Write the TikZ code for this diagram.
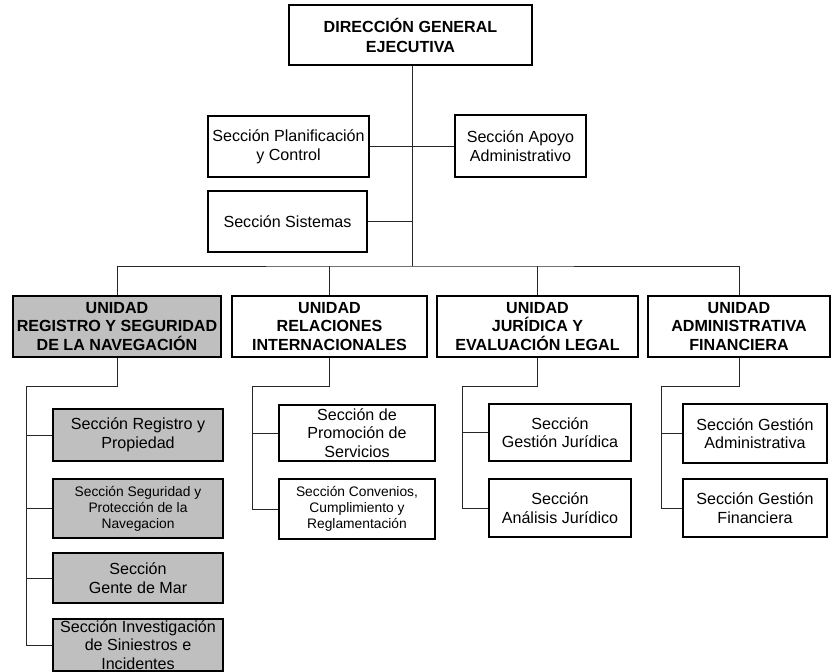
\documentclass[tikz,border=0pt]{standalone}
\usepackage{fontspec}
\setmainfont{Liberation Sans}
\begin{document}
\begin{tikzpicture}[x=1pt,y=-1pt,
  box/.style={draw=black,line width=1.6pt,fill=white,align=center,inner sep=1pt,
    font=\fontsize{16.1}{18.6}\selectfont},
  gbox/.style={box,fill=black!25},
  ubox/.style={box,font=\fontsize{16.1}{18.4}\selectfont\bfseries},
  small/.style={font=\fontsize{13.8}{15.9}\selectfont},
  conn/.style={draw=black!85,line width=0.9pt}]
\useasboundingbox (0,0) rectangle (833,672);
% top
\node[ubox,minimum width=243pt,minimum height=60pt,font=\fontsize{16.1}{20}\selectfont\bfseries] (top) at (410.5,35) {DIRECCIÓN GENERAL\\EJECUTIVA};
\node[box,minimum width=161pt,minimum height=61pt] (plan) at (288.5,146.5) {Sección Planificación\\y Control};
\node[box,minimum width=131pt,minimum height=62pt] (apoyo) at (520.5,146) {Sección Apoyo\\Administrativo};
\node[box,minimum width=159pt,minimum height=61pt] (sist) at (287.5,221.5) {Sección Sistemas};
% unidades
\node[ubox,fill=black!25,minimum width=208pt,minimum height=61pt] (u1) at (117,326.5) {UNIDAD\\REGISTRO Y SEGURIDAD\\DE LA NAVEGACIÓN};
\node[ubox,minimum width=195pt,minimum height=61pt] (u2) at (329.5,326.5) {UNIDAD\\RELACIONES\\INTERNACIONALES};
\node[ubox,minimum width=201pt,minimum height=61pt] (u3) at (537.5,326.5) {UNIDAD\\JURÍDICA Y\\EVALUACIÓN LEGAL};
\node[ubox,minimum width=182pt,minimum height=61pt] (u4) at (739,326.5) {UNIDAD\\ADMINISTRATIVA\\FINANCIERA};
% secciones U1
\node[gbox,minimum width=170pt,minimum height=52pt] (sa) at (138,435) {Sección Registro y\\Propiedad};
\node[gbox,small,minimum width=170pt,minimum height=59pt] (sb) at (138,508.5) {Sección Seguridad y\\Protección de la\\Navegacion};
\node[gbox,minimum width=170pt,minimum height=50pt] (sc) at (138,578) {Sección\\Gente de Mar};
\node[gbox,minimum width=170pt,minimum height=52pt] (sd) at (138,645) {Sección Investigación\\de Siniestros e\\Incidentes};
% secciones U2
\node[box,minimum width=156pt,minimum height=56pt] (se) at (357,433) {Sección de\\Promoción de\\Servicios};
\node[box,small,minimum width=156pt,minimum height=60pt] (sf) at (357,509) {Sección Convenios,\\Cumplimiento y\\Reglamentación};
% secciones U3
\node[box,minimum width=142pt,minimum height=57pt] (sg) at (560,432.5) {Sección\\Gestión Jurídica};
\node[box,minimum width=142pt,minimum height=58pt] (sh) at (560,508) {Sección\\Análisis Jurídico};
% secciones U4
\node[box,minimum width=144pt,minimum height=59pt] (si) at (755,433.5) {Sección Gestión\\Administrativa};
\node[box,minimum width=144pt,minimum height=58pt] (sj) at (755,508) {Sección Gestión\\Financiera};
% coordinates
\coordinate (bus) at (412,266);
\coordinate (v1) at (26,386);
\coordinate (v2) at (252,386);
\coordinate (v3) at (462,386);
\coordinate (v4) at (661,386);
% connectors
\draw[conn] (top.south -| bus) -- (bus);
\draw[conn] (plan.east) -- (plan.east -| bus);
\draw[conn] (apoyo.west) -- (apoyo.west -| bus);
\draw[conn] (sist.east) -- (sist.east -| bus);
\draw[conn] (u1.north) |- (bus) -| (u4.north);
\draw[conn] (u2.north) -- (u2.north |- bus);
\draw[conn] (u3.north) -- (u3.north |- bus);
\draw[conn] (u1.south) |- (v1) |- (sd.west);
\draw[conn] (sa.west) -- (sa.west -| v1);
\draw[conn] (sb.west) -- (sb.west -| v1);
\draw[conn] (sc.west) -- (sc.west -| v1);
\draw[conn] (u2.south) |- (v2) |- (sf.west);
\draw[conn] (se.west) -- (se.west -| v2);
\draw[conn] (u3.south) |- (v3) |- (sh.west);
\draw[conn] (sg.west) -- (sg.west -| v3);
\draw[conn] (u4.south) |- (v4) |- (sj.west);
\draw[conn] (si.west) -- (si.west -| v4);
\end{tikzpicture}
\end{document}
